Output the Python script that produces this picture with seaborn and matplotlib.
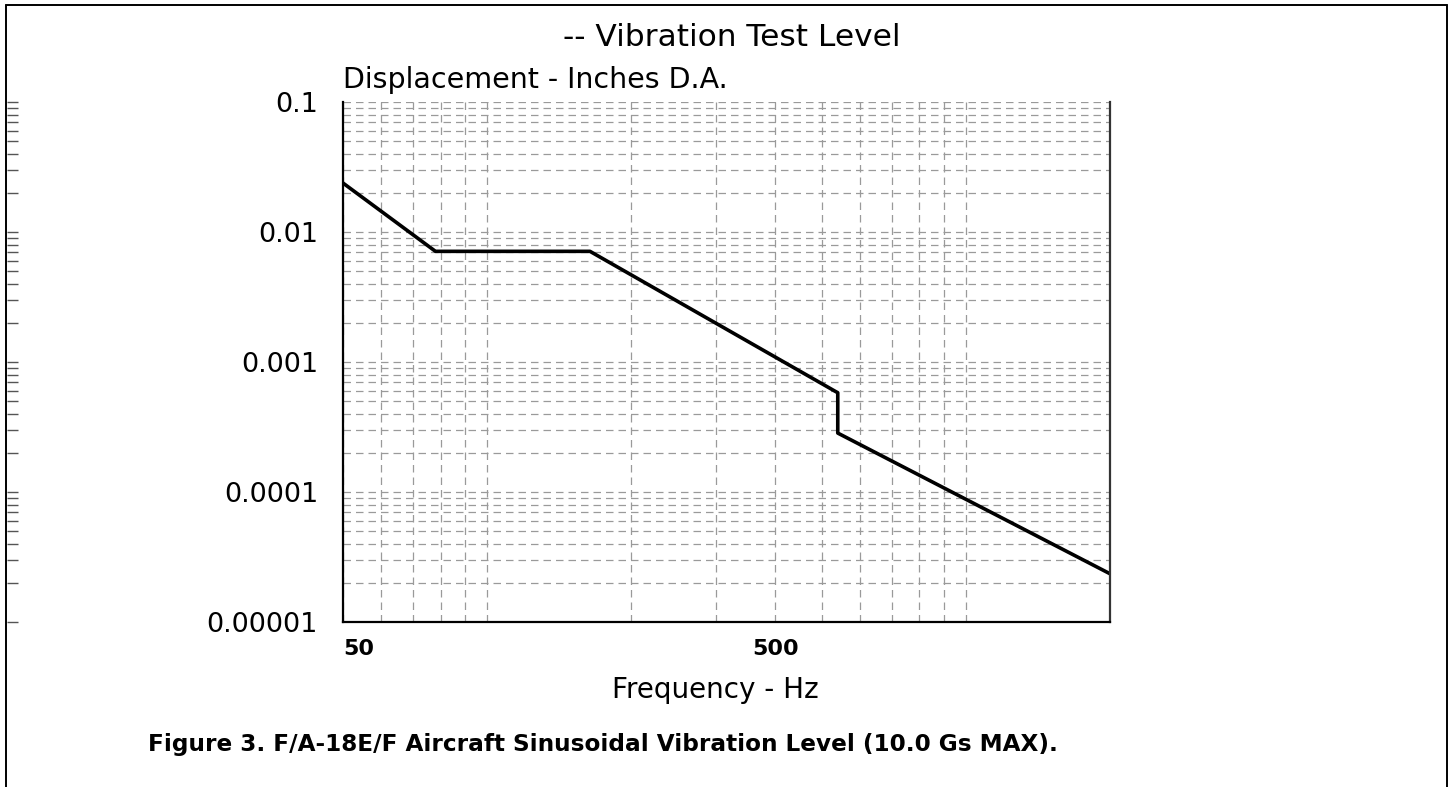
import numpy as np
import pandas as pd
import seaborn as sns
import matplotlib.pyplot as plt
from matplotlib.ticker import FixedLocator, LogLocator, NullFormatter
from matplotlib.lines import Line2D

# data (log-log)
freq_hz = [50, 78, 164, 540, 540, 2000]
disp_in = [0.0238, 0.0071, 0.0071, 0.00058, 0.000284, 0.0000235]

y_ticks = [0.1, 0.01, 0.001, 0.0001, 0.00001]
y_labels = ["0.1", "0.01", "0.001", "0.0001", "0.00001"]
# the source draws its "500" label on the 400 Hz gridline
x_ticks = [50, 400]
x_labels = ["50", "500"]

title = "-- Vibration Test Level"
y_title = "Displacement - Inches D.A."
x_title = "Frequency - Hz"
caption = "Figure 3. F/A-18E/F Aircraft Sinusoidal Vibration Level (10.0 Gs MAX)."

df = pd.DataFrame({"freq": freq_hz, "disp": disp_in})

sns.set_style("white")
plt.rcParams['font.family'] = ['DejaVu Sans']
plt.rcParams['text.color'] = 'black'
plt.rcParams['xtick.color'] = 'black'
plt.rcParams['ytick.color'] = 'black'

W, H = 1450, 787
fig = plt.figure(figsize=(W / 100, H / 100), dpi=100)
L, R, T, B = 343, 1110, 102, 622
ax = fig.add_axes([L / W, 1 - B / H, (R - L) / W, (B - T) / H])

sns.lineplot(data=df, x="freq", y="disp", estimator=None, sort=False,
             color="black", linewidth=2.6, ax=ax)

ax.set_xscale("log")
ax.set_yscale("log")
ax.set_xlim(50, 2000)
ax.set_ylim(1e-5, 0.1)

grid_kw = dict(color="#9a9a9a", linestyle=(0, (6, 4)), linewidth=0.9)
ax.xaxis.set_major_locator(FixedLocator(x_ticks))
ax.xaxis.set_minor_locator(LogLocator(base=10, subs=np.arange(1, 10)))
ax.xaxis.set_minor_formatter(NullFormatter())
ax.set_xticklabels(x_labels, fontsize=16, fontweight="bold", color="black")
ax.get_xticklabels()[0].set_ha("left")

ax.yaxis.set_major_locator(FixedLocator(y_ticks))
ax.yaxis.set_minor_locator(LogLocator(base=10, subs=np.arange(2, 10)))
ax.yaxis.set_minor_formatter(NullFormatter())
ax.set_yticklabels(y_labels, fontsize=19.5, color="black")

ax.grid(True, which="both", axis="both", **grid_kw)
ax.tick_params(which="both", length=0)
ax.tick_params(axis="y", pad=18)
ax.tick_params(axis="x", pad=12)
ax.set_xlabel("")
ax.set_ylabel("")

for s in ["left", "bottom"]:
    ax.spines[s].set_color("black")
    ax.spines[s].set_linewidth(1.6)
ax.spines["right"].set_color("#333333")
ax.spines["right"].set_linewidth(1.6)
ax.spines["top"].set_visible(False)

fig.text(732 / W, 1 - 37 / H, title, ha="center", va="center", fontsize=22.5)
fig.text(L / W, 1 - 80 / H, y_title, ha="left", va="center", fontsize=20.5)
fig.text(715 / W, 1 - 690 / H, x_title, ha="center", va="center", fontsize=20)
fig.text(148 / W, 1 - 745 / H, caption, ha="left", va="center",
         fontsize=16.7, fontweight="bold")

# page frame
for xs, ys in [([6, 6], [0, H - 5]), ([6, 1447], [H - 5, H - 5]), ([1447, 1447], [0, H - 5])]:
    fig.add_artist(Line2D([x / W for x in xs], [y / H for y in ys],
                          color="black", linewidth=1.4))

# stray copy of the y scale ticks along the left page edge
edge = fig.add_axes([7 / W, 1 - B / H, 12 / W, (B - T) / H])
edge.set_yscale("log")
edge.set_ylim(1e-5, 0.1)
edge.set_xticks([])
edge.yaxis.set_major_locator(LogLocator(base=10))
edge.yaxis.set_minor_locator(LogLocator(base=10, subs=np.arange(2, 10)))
edge.yaxis.set_minor_formatter(NullFormatter())
edge.tick_params(axis="y", which="both", left=True, direction="in",
                 length=8, width=1, color="#555555", labelleft=False)
for s in edge.spines.values():
    s.set_visible(False)
edge.patch.set_alpha(0)

fig.savefig("out.png", dpi=100)
